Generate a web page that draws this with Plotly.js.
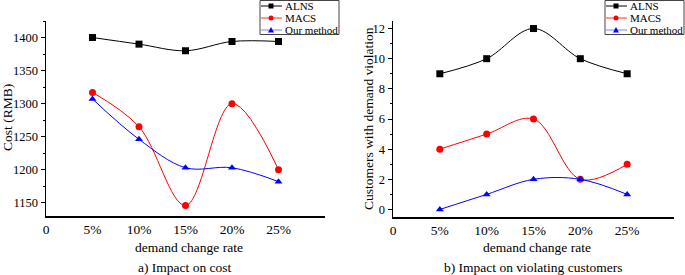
<!DOCTYPE html>
<html>
<head>
<meta charset="utf-8">
<script src="https://cdn.plot.ly/plotly-3.0.1.min.js"></script>
<style>html,body{margin:0;padding:0;background:#fff;}#chart{width:685px;height:275px;}</style>
</head>
<body>
<div id="chart"></div>
<script>
var xVals = [5, 10, 15, 20, 25];
var xTickVals = [0, 5, 10, 15, 20, 25];
var xTickText = ["0", "5%", "10%", "15%", "20%", "25%"];
var seriesNames = ["ALNS", "MACS", "Our method"];

var costALNS = [1400, 1390, 1380, 1394, 1394];
var costMACS = [1317, 1265, 1146, 1300, 1200];
var costOurs = [1307, 1246, 1203, 1203, 1182];

var violALNS = [9, 10, 12, 10, 9];
var violMACS = [4, 5, 6, 2, 3];
var violOurs = [0, 1, 2, 2, 1];

var colors = ["#000000", "#ff0000", "#0000ff"];
var legendLineColors = ["#000000", "#ff3030", "#8080ff"];
var symbols = ["square", "circle", "triangle-up"];

var W = 685, H = 275;
var FAM = "Liberation Serif, serif";

function mk(y, i, xa, ya) {
  return {
    x: xVals, y: y, name: seriesNames[i], type: "scatter", mode: "lines+markers",
    xaxis: xa, yaxis: ya, showlegend: false,
    line: {color: colors[i], width: 1, shape: "spline", smoothing: 1},
    marker: {color: colors[i], symbol: symbols[i], size: 7}
  };
}

var data = [
  mk(costALNS, 0, "x", "y"),
  mk(costMACS, 1, "x", "y"),
  mk(costOurs, 2, "x", "y"),
  mk(violALNS, 0, "x2", "y2"),
  mk(violMACS, 1, "x2", "y2"),
  mk(violOurs, 2, "x2", "y2")
];

function xAxis(domain, anchor) {
  return {
    domain: domain, anchor: anchor, range: [0, 30],
    tickvals: xTickVals, ticktext: xTickText, ticks: "",
    showline: true, linecolor: "#000", linewidth: 1.5,
    showgrid: false, zeroline: false, fixedrange: true,
    tickfont: {family: FAM, size: 13.5, color: "#000"}
  };
}
function yAxis(domain, anchor, range, dtick) {
  return {
    domain: domain, anchor: anchor, range: range, dtick: dtick,
    ticks: "outside", ticklen: 4, tickwidth: 1, tickcolor: "#000",
    minor: {ticks: "outside", ticklen: 2, tickcolor: "#000", dtick: dtick / 2},
    showline: true, linecolor: "#000", linewidth: 1.5,
    showgrid: false, zeroline: false, fixedrange: true,
    tickfont: {family: FAM, size: 12.5, color: "#000"}
  };
}

function px(v) { return v / W; }
function py(v) { return 1 - v / H; }

var shapes = [];
var annotations = [
  {text: "Cost (RMB)", x: 7, y: 118, textangle: -90, size: 13.5},
  {text: "Customers with demand violation", x: 368, y: 119, textangle: -90, size: 13.5},
  {text: "demand change rate", x: 189.5, y: 247, size: 13.5},
  {text: "demand change rate", x: 536.5, y: 247, size: 13.5},
  {text: "a) Impact on cost", x: 185, y: 267, size: 13.5},
  {text: "b) Impact on violating customers", x: 533, y: 267, size: 13.5}
].map(function (a) {
  return {text: a.text, xref: "paper", yref: "paper", x: px(a.x), y: py(a.y),
    xanchor: "center", yanchor: "middle", textangle: a.textangle || 0, showarrow: false,
    font: {family: FAM, size: a.size, color: "#000"}};
});

// custom compact legends (one per panel)
var legendBoxes = [{x0: 260, x1: 339}, {x0: 605, x1: 684}];
var rowY = [6, 18, 30];
legendBoxes.forEach(function (b) {
  shapes.push({type: "rect", xref: "paper", yref: "paper",
    x0: px(b.x0), x1: px(b.x1), y0: py(34.5), y1: py(0.5),
    line: {color: "#444", width: 1}, fillcolor: "#fff", layer: "above"});
  seriesNames.forEach(function (nm, i) {
    var yc = rowY[i];
    var l0 = b.x0 + 1, l1 = b.x0 + 22, mc = b.x0 + 11;
    shapes.push({type: "line", xref: "paper", yref: "paper",
      x0: px(l0), x1: px(l1), y0: py(yc), y1: py(yc),
      line: {color: legendLineColors[i], width: 1}, layer: "above"});
    var r = 2.5;
    if (symbols[i] === "square") {
      shapes.push({type: "rect", xref: "paper", yref: "paper",
        x0: px(mc - r), x1: px(mc + r), y0: py(yc + r), y1: py(yc - r),
        line: {width: 0}, fillcolor: colors[i], layer: "above"});
    } else if (symbols[i] === "circle") {
      shapes.push({type: "circle", xref: "paper", yref: "paper",
        x0: px(mc - r), x1: px(mc + r), y0: py(yc + r), y1: py(yc - r),
        line: {width: 0}, fillcolor: colors[i], layer: "above"});
    } else {
      shapes.push({type: "path", xref: "paper", yref: "paper",
        path: "M" + px(mc - 3) + "," + py(yc + 2.5) + " L" + px(mc + 3) + "," + py(yc + 2.5) +
              " L" + px(mc) + "," + py(yc - 3) + " Z",
        line: {width: 0}, fillcolor: colors[i], layer: "above"});
    }
    annotations.push({text: nm, xref: "paper", yref: "paper", x: px(b.x0 + 24), y: py(yc),
      xanchor: "left", yanchor: "middle", showarrow: false, borderpad: 0,
      font: {family: FAM, size: 11, color: "#000"}});
  });
});

var layout = {
  width: W, height: H,
  margin: {l: 0, r: 0, t: 0, b: 0},
  paper_bgcolor: "#fff", plot_bgcolor: "#fff",
  font: {family: FAM, size: 13, color: "#000"},
  showlegend: false,
  xaxis: xAxis([px(46), px(325)], "y"),
  yaxis: yAxis([py(216), py(21)], "x", [1130, 1425], 50),
  xaxis2: xAxis([px(393), px(674)], "y2"),
  yaxis2: yAxis([py(217), py(21)], "x2", [-0.5, 12.5], 2),
  shapes: shapes,
  annotations: annotations
};

Plotly.newPlot("chart", data, layout, {displayModeBar: false, staticPlot: true});
</script>
</body>
</html>
